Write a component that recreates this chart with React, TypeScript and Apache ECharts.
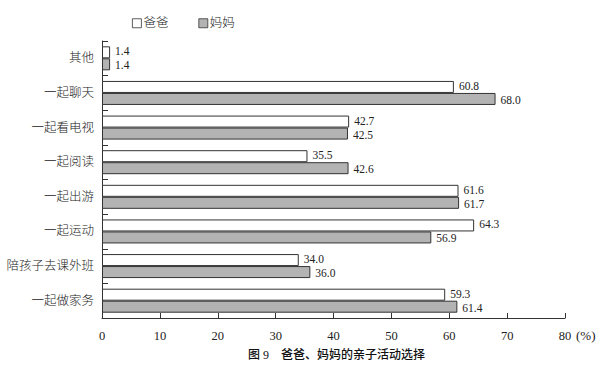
import React, { useEffect, useRef } from "react";
import * as echarts from "echarts";

const categories = ["其他", "一起聊天", "一起看电视", "一起阅读", "一起出游", "一起运动", "陪孩子去课外班", "一起做家务"];
const dadValues = [1.4, 60.8, 42.7, 35.5, 61.6, 64.3, 34.0, 59.3];
const momValues = [1.4, 68.0, 42.5, 42.6, 61.7, 56.9, 36.0, 61.4];
const seriesNames = ["爸爸", "妈妈"];
const chartTitle = "图 9　爸爸、妈妈的亲子活动选择";
const unitLabel = "(%)";

const SERIF = '"Liberation Serif", "Noto Sans CJK SC", serif';

export default function App() {
  const ref = useRef<HTMLDivElement>(null);
  useEffect(() => {
    if (!ref.current) return;
    const chart = echarts.init(ref.current, undefined, { renderer: "svg" });
    const labelCfg = (dy: number) => ({
      show: true,
      position: "right" as const,
      distance: 5,
      offset: [0, dy],
      color: "#222",
      fontSize: 11.5,
      lineHeight: 11,
      fontFamily: SERIF,
      formatter: (p: any) => Number(p.value).toFixed(1),
    });
    chart.setOption({
      animation: false,
      backgroundColor: "#fff",
      title: {
        text: chartTitle,
        left: 243,
        top: 344,
        textStyle: { fontSize: 12, fontWeight: 500, color: "#111", fontFamily: SERIF },
      },
      legend: {
        data: seriesNames,
        left: 127,
        top: 12,
        itemWidth: 9,
        itemHeight: 9,
        itemGap: 30,
        icon: "rect",
        itemStyle: { borderWidth: 0.8 },
        textStyle: { fontSize: 12.5, fontWeight: 300, color: "#222", fontFamily: SERIF, padding: [0, 0, 0, -3] },
      },
      grid: { left: 102, right: 35, top: 41, bottom: 58, containLabel: false },
      xAxis: {
        type: "value",
        min: 0,
        max: 80,
        interval: 10,
        axisLine: { show: true, lineStyle: { color: "#333", width: 1 } },
        axisTick: { show: true, inside: true, length: 5, lineStyle: { color: "#333" } },
        splitLine: { show: false },
        axisLabel: { color: "#222", fontSize: 12.5, fontFamily: SERIF, margin: 12 },
      },
      yAxis: {
        type: "category",
        data: categories,
        inverse: true,
        axisLine: { show: true, lineStyle: { color: "#333", width: 1 } },
        axisTick: { show: true, inside: true, length: 6, lineStyle: { color: "#333" } },
        axisLabel: { color: "#222", fontSize: 12.5, fontWeight: 300, fontFamily: SERIF, margin: 8 },
      },
      graphic: [
        {
          type: "text",
          left: 576,
          top: 329,
          style: { text: unitLabel, fill: "#222", fontSize: 13, fontFamily: SERIF },
        },
      ],
      series: [
        {
          name: seriesNames[0],
          type: "bar",
          data: dadValues,
          barWidth: 12,
          barGap: "0%",
          itemStyle: { color: "#ffffff", borderColor: "#333", borderWidth: 1 },
          label: labelCfg(-1),
        },
        {
          name: seriesNames[1],
          type: "bar",
          data: momValues,
          barWidth: 12,
          barGap: "0%",
          itemStyle: { color: "#b3b3b3", borderColor: "#333", borderWidth: 1 },
          label: labelCfg(1),
        },
      ],
    });
    return () => chart.dispose();
  }, []);
  return <div ref={ref} style={{ width: 600, height: 376, position: "absolute", left: 0, top: 0 }} />;
}
